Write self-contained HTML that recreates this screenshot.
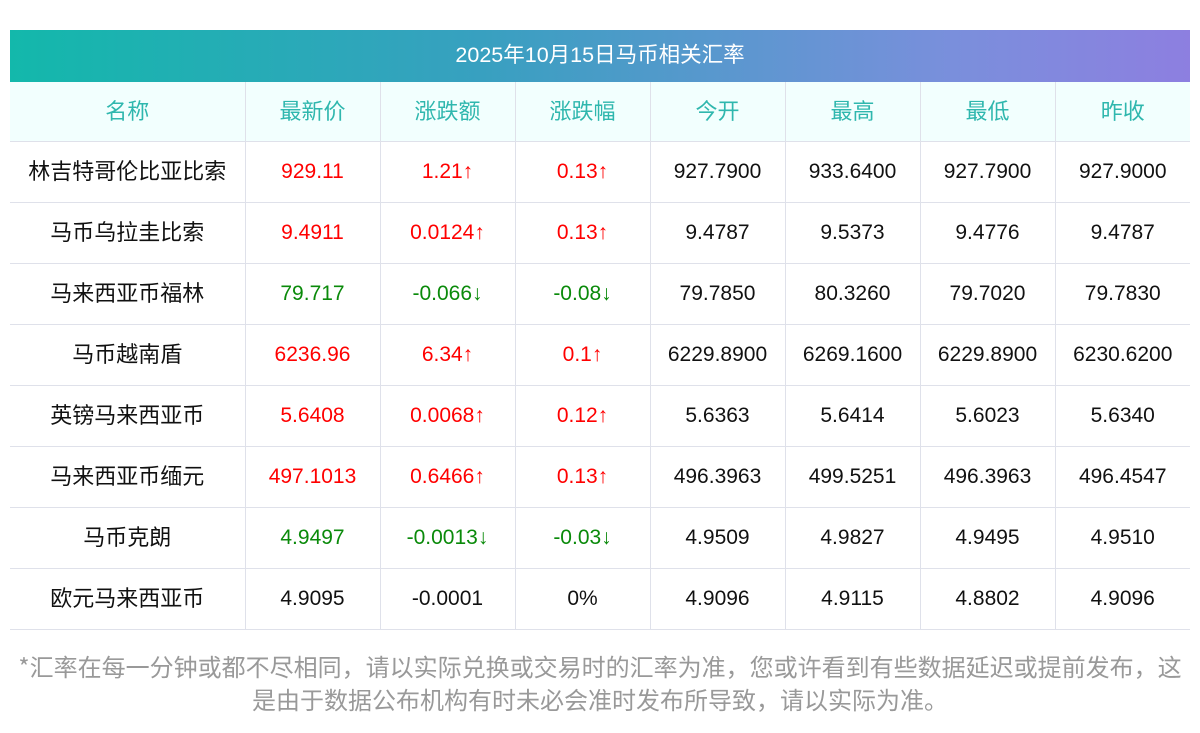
<!DOCTYPE html><html><head><meta charset="utf-8"><style>
body{margin:0;background:#fff;width:1200px;height:733px;overflow:hidden;font-family:"Liberation Sans","Noto Sans CJK SC",sans-serif}
.t{position:absolute;left:10px;top:30px;width:1180px;height:52px;background:linear-gradient(90deg,#13b8ab,#38a0c0 40%,#7a8fdc 80%,#8d7fe0);color:#fff;font-size:21.5px;line-height:50px;text-align:center}
table{position:absolute;left:10px;top:82px;border-collapse:collapse;table-layout:fixed;width:1180px}
td{border:1px solid #dfe1ea;text-align:center;height:60px;padding:0;font-size:21px;color:#111;line-height:24px;overflow:hidden}
tr:first-child td{border-top:none}
td:first-child{border-left:none}td:last-child{border-right:none}
td:first-child,tr.h td{font-family:"Noto Sans CJK SC",sans-serif;font-size:22px}
td span{position:relative;top:-2px}
tr.h td{background:#f2fffe;color:#2fb7ae;height:59px}
.r{color:#f00}.g{color:#0a8a0a}
.n{position:absolute;left:0;top:649px;width:1200px;text-align:center;color:#999;font-size:24px;line-height:33px;font-family:"Noto Sans CJK SC",sans-serif}
</style></head><body>
<div class="t">2025年10月15日马币相关汇率</div>
<table><colgroup><col style="width:235px"><col span="7" style="width:135px"></colgroup>
<tr class="h"><td><span>名称</span></td><td><span>最新价</span></td><td><span>涨跌额</span></td><td><span>涨跌幅</span></td><td><span>今开</span></td><td><span>最高</span></td><td><span>最低</span></td><td><span>昨收</span></td></tr>
<tr><td><span>林吉特哥伦比亚比索</span></td><td class="r">929.11</td><td class="r">1.21↑</td><td class="r">0.13↑</td><td>927.7900</td><td>933.6400</td><td>927.7900</td><td>927.9000</td></tr>
<tr><td><span>马币乌拉圭比索</span></td><td class="r">9.4911</td><td class="r">0.0124↑</td><td class="r">0.13↑</td><td>9.4787</td><td>9.5373</td><td>9.4776</td><td>9.4787</td></tr>
<tr><td><span>马来西亚币福林</span></td><td class="g">79.717</td><td class="g">-0.066↓</td><td class="g">-0.08↓</td><td>79.7850</td><td>80.3260</td><td>79.7020</td><td>79.7830</td></tr>
<tr><td><span>马币越南盾</span></td><td class="r">6236.96</td><td class="r">6.34↑</td><td class="r">0.1↑</td><td>6229.8900</td><td>6269.1600</td><td>6229.8900</td><td>6230.6200</td></tr>
<tr><td><span>英镑马来西亚币</span></td><td class="r">5.6408</td><td class="r">0.0068↑</td><td class="r">0.12↑</td><td>5.6363</td><td>5.6414</td><td>5.6023</td><td>5.6340</td></tr>
<tr><td><span>马来西亚币缅元</span></td><td class="r">497.1013</td><td class="r">0.6466↑</td><td class="r">0.13↑</td><td>496.3963</td><td>499.5251</td><td>496.3963</td><td>496.4547</td></tr>
<tr><td><span>马币克朗</span></td><td class="g">4.9497</td><td class="g">-0.0013↓</td><td class="g">-0.03↓</td><td>4.9509</td><td>4.9827</td><td>4.9495</td><td>4.9510</td></tr>
<tr><td><span>欧元马来西亚币</span></td><td>4.9095</td><td>-0.0001</td><td>0%</td><td>4.9096</td><td>4.9115</td><td>4.8802</td><td>4.9096</td></tr>
</table>
<div class="n">*汇率在每一分钟或都不尽相同，请以实际兑换或交易时的汇率为准，您或许看到有些数据延迟或提前发布，这<br>是由于数据公布机构有时未必会准时发布所导致，请以实际为准。</div>
</body></html>
